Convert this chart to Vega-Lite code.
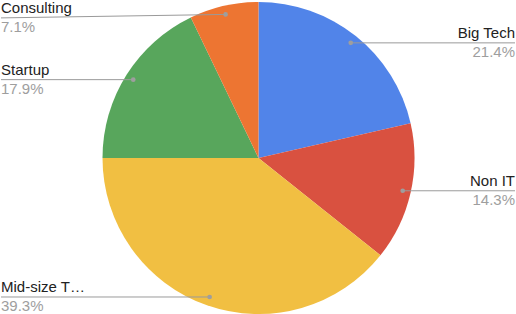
{
  "$schema": "https://vega.github.io/schema/vega-lite/v6.json",
  "width": 516,
  "height": 314,
  "autosize": {"type": "fit", "contains": "padding"},
  "padding": 0,
  "background": "white",
  "view": {"stroke": null},
  "config": {"font": "Liberation Sans"},
  "data": {
    "values": [
      {"i": 1, "category": "Big Tech", "count": 6},
      {"i": 2, "category": "Non IT", "count": 4},
      {"i": 3, "category": "Mid-size T…", "count": 11},
      {"i": 4, "category": "Startup", "count": 5},
      {"i": 5, "category": "Consulting", "count": 2}
    ]
  },
  "transform": [
    {"window": [{"op": "sum", "field": "count", "as": "cum"}], "sort": [{"field": "i"}], "frame": [null, 0]},
    {"joinaggregate": [{"op": "sum", "field": "count", "as": "total"}]},
    {"calculate": "(datum.cum - datum.count / 2) / datum.total * 2 * PI", "as": "mid"},
    {"calculate": "format(datum.count / datum.total, '.1%')", "as": "pct"},
    {"calculate": "0.95 * 156 * sin(datum.mid)", "as": "dotX"},
    {"calculate": "0.95 * 156 * cos(datum.mid)", "as": "dotY"},
    {"calculate": "datum.dotX >= 0 ? 'right' : 'left'", "as": "side"},
    {"calculate": "datum.side == 'right' ? 257 : -258", "as": "edgeX"},
    {"calculate": "clamp(datum.dotY, -141, 141)", "as": "lineY"}
  ],
  "layer": [
    {
      "mark": {"type": "arc", "outerRadius": 156},
      "encoding": {
        "theta": {"field": "count", "type": "quantitative", "stack": true},
        "order": {"field": "i", "type": "quantitative"},
        "color": {
          "field": "category",
          "type": "nominal",
          "scale": {
            "domain": ["Big Tech", "Non IT", "Mid-size T…", "Startup", "Consulting"],
            "range": ["#5184E9", "#D95140", "#F1BF42", "#58A65C", "#ED7532"]
          },
          "legend": null
        }
      }
    },
    {
      "mark": {"type": "rule", "color": "#9a9a9a", "strokeWidth": 1},
      "encoding": {
        "x": {"field": "dotX", "type": "quantitative", "scale": {"domain": [-258, 258], "nice": false, "zero": false}, "axis": null},
        "y": {"field": "dotY", "type": "quantitative", "scale": {"domain": [-157, 157], "nice": false, "zero": false}, "axis": null},
        "x2": {"field": "edgeX"},
        "y2": {"field": "lineY"}
      }
    },
    {
      "mark": {"type": "point", "filled": true, "size": 22, "color": "#9e9e9e", "opacity": 1},
      "encoding": {
        "x": {"field": "dotX", "type": "quantitative", "scale": {"domain": [-258, 258], "nice": false, "zero": false}, "axis": null},
        "y": {"field": "dotY", "type": "quantitative", "scale": {"domain": [-157, 157], "nice": false, "zero": false}, "axis": null}
      }
    },
    {
      "transform": [{"filter": "datum.side == 'right'"}],
      "mark": {"type": "text", "align": "right", "baseline": "alphabetic", "dy": -5, "fontSize": 15, "color": "#222222"},
      "encoding": {
        "x": {"field": "edgeX", "type": "quantitative", "scale": {"domain": [-258, 258], "nice": false, "zero": false}, "axis": null},
        "y": {"field": "lineY", "type": "quantitative", "scale": {"domain": [-157, 157], "nice": false, "zero": false}, "axis": null},
        "text": {"field": "category"}
      }
    },
    {
      "transform": [{"filter": "datum.side == 'right'"}],
      "mark": {"type": "text", "align": "right", "baseline": "alphabetic", "dy": 14, "fontSize": 15, "color": "#9e9e9e"},
      "encoding": {
        "x": {"field": "edgeX", "type": "quantitative", "scale": {"domain": [-258, 258], "nice": false, "zero": false}, "axis": null},
        "y": {"field": "lineY", "type": "quantitative", "scale": {"domain": [-157, 157], "nice": false, "zero": false}, "axis": null},
        "text": {"field": "pct"}
      }
    },
    {
      "transform": [{"filter": "datum.side == 'left'"}],
      "mark": {"type": "text", "align": "left", "baseline": "alphabetic", "dy": -5, "fontSize": 15, "color": "#222222"},
      "encoding": {
        "x": {"field": "edgeX", "type": "quantitative", "scale": {"domain": [-258, 258], "nice": false, "zero": false}, "axis": null},
        "y": {"field": "lineY", "type": "quantitative", "scale": {"domain": [-157, 157], "nice": false, "zero": false}, "axis": null},
        "text": {"field": "category"}
      }
    },
    {
      "transform": [{"filter": "datum.side == 'left'"}],
      "mark": {"type": "text", "align": "left", "baseline": "alphabetic", "dy": 14, "fontSize": 15, "color": "#9e9e9e"},
      "encoding": {
        "x": {"field": "edgeX", "type": "quantitative", "scale": {"domain": [-258, 258], "nice": false, "zero": false}, "axis": null},
        "y": {"field": "lineY", "type": "quantitative", "scale": {"domain": [-157, 157], "nice": false, "zero": false}, "axis": null},
        "text": {"field": "pct"}
      }
    }
  ]
}
